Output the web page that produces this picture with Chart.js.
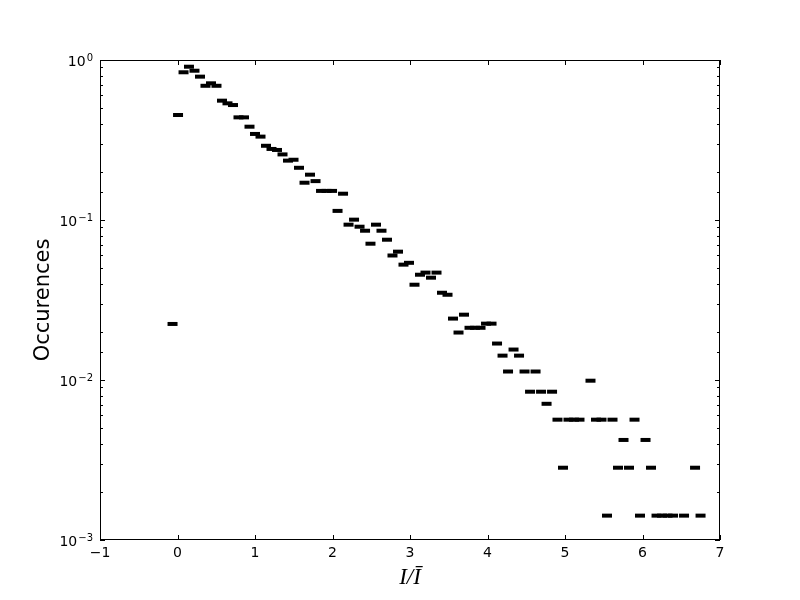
<!DOCTYPE html>
<html>
<head>
<meta charset="utf-8">
<script src="https://cdn.jsdelivr.net/npm/chart.js@4/dist/chart.umd.min.js"></script>
<style>
  html, body { margin: 0; padding: 0; background: #ffffff; }
  #wrap { width: 800px; height: 600px; }
</style>
</head>
<body>
<div id="wrap"><canvas id="c" width="800" height="600"></canvas></div>
<script>
// ---- data ----
const binCenters = [
  -0.064, 0.007, 0.078, 0.148, 0.219, 0.290, 0.361, 0.432, 0.503, 0.574,
  0.645, 0.716, 0.787, 0.858, 0.929, 1.000, 1.071, 1.142, 1.213, 1.284,
  1.355, 1.426, 1.497, 1.568, 1.639, 1.710, 1.781, 1.852, 1.923, 1.994,
  2.065, 2.136, 2.207, 2.278, 2.349, 2.420, 2.490, 2.561, 2.632, 2.703,
  2.774, 2.845, 2.916, 2.987, 3.058, 3.129, 3.200, 3.271, 3.342, 3.413,
  3.484, 3.555, 3.626, 3.697, 3.768, 3.839, 3.910, 3.981, 4.052, 4.123,
  4.194, 4.265, 4.336, 4.407, 4.478, 4.549, 4.620, 4.691, 4.762, 4.833,
  4.903, 4.974, 5.045, 5.116, 5.187, 5.329, 5.400, 5.471, 5.542, 5.613,
  5.684, 5.755, 5.826, 5.897, 5.968, 6.039, 6.110, 6.181, 6.252, 6.323,
  6.394, 6.536, 6.678, 6.749
];
const occurrences = [
  0.0224, 0.453, 0.838, 0.908, 0.857, 0.787, 0.690, 0.715, 0.690, 0.557,
  0.536, 0.523, 0.438, 0.438, 0.383, 0.345, 0.332, 0.291, 0.278, 0.274,
  0.257, 0.235, 0.238, 0.212, 0.171, 0.192, 0.175, 0.152, 0.152, 0.152,
  0.114, 0.146, 0.0935, 0.1005, 0.0908, 0.0857, 0.0711, 0.0935, 0.0857, 0.0753,
  0.0600, 0.0634, 0.0526, 0.0540, 0.0394, 0.0455, 0.0469, 0.0436, 0.0469, 0.0351,
  0.0341, 0.0242, 0.0198, 0.0256, 0.0212, 0.0212, 0.0212, 0.0225, 0.0225, 0.0169,
  0.0142, 0.0113, 0.0155, 0.0142, 0.0113, 0.00845, 0.0113, 0.00845, 0.0071, 0.00845,
  0.00565, 0.00283, 0.00565, 0.00565, 0.00565, 0.0099, 0.00565, 0.00565, 0.00142, 0.00565,
  0.00283, 0.00422, 0.00283, 0.00565, 0.00142, 0.00422, 0.00283, 0.00142, 0.00142, 0.00142,
  0.00142, 0.00142, 0.00283, 0.00142
];
const xTickValues = [-1, 0, 1, 2, 3, 4, 5, 6, 7];
const xTickLabels = ['\u22121', '0', '1', '2', '3', '4', '5', '6', '7'];
const yDecades = [0.001, 0.01, 0.1, 1];
const yDecadeBase = '10';
const yDecadeExponents = ['\u22123', '\u22122', '\u22121', '0'];
const xAxisTitle = 'I/\u012A';
const yAxisTitle = 'Occurences';

// ---- frame, inward ticks and 10^n labels (matplotlib classic look) ----
const framePlugin = {
  id: 'frame',
  afterDatasetsDraw(chart) {
    const {ctx, chartArea: a, scales: {x, y}} = chart;
    ctx.save();
    ctx.strokeStyle = '#000';
    ctx.lineWidth = 1;
    ctx.beginPath();
    xTickValues.forEach(v => {
      const px = Math.round(x.getPixelForValue(v)) + 0.5;
      ctx.moveTo(px, a.bottom); ctx.lineTo(px, a.bottom - 5);
      ctx.moveTo(px, a.top); ctx.lineTo(px, a.top + 5);
    });
    y.ticks.forEach(t => {
      const v = t.value;
      if (v < 0.001 - 1e-12 || v > 1 + 1e-12) return;
      const major = yDecades.some(d => Math.abs(d - v) / d < 1e-6);
      const len = major ? 5 : 3;
      const py = Math.round(y.getPixelForValue(v)) + 0.5;
      ctx.moveTo(a.left, py); ctx.lineTo(a.left + len, py);
      ctx.moveTo(a.right, py); ctx.lineTo(a.right - len, py);
    });
    ctx.stroke();
    ctx.strokeRect(Math.round(a.left) + 0.5, Math.round(a.top) + 0.5,
                   Math.round(a.right - a.left) - 1, Math.round(a.bottom - a.top) - 1);

    // y decade labels with raised exponents
    ctx.fillStyle = '#000';
    ctx.textBaseline = 'alphabetic';
    ctx.textAlign = 'left';
    const rightEdge = a.left - 7;
    yDecades.forEach((d, k) => {
      const py = y.getPixelForValue(d);
      ctx.font = '10px "DejaVu Sans"';
      const ew = ctx.measureText(yDecadeExponents[k]).width;
      ctx.fillText(yDecadeExponents[k], rightEdge - ew, py + 0.5);
      ctx.font = '14px "DejaVu Sans"';
      const bw = ctx.measureText(yDecadeBase).width;
      ctx.fillText(yDecadeBase, rightEdge - ew - bw - 1, py + 6);
    });
    ctx.restore();
  }
};

const ctx = document.getElementById('c').getContext('2d');
new Chart(ctx, {
  type: 'scatter',
  data: {
    datasets: [{
      data: binCenters.map((v, i) => ({x: v, y: occurrences[i]})),
      pointStyle: 'line',
      pointRadius: 5,
      pointHoverRadius: 5,
      pointBorderWidth: 4,
      pointHoverBorderWidth: 4,
      borderColor: '#000',
      backgroundColor: '#000',
      showLine: false
    }]
  },
  options: {
    responsive: false,
    animation: false,
    devicePixelRatio: 1,
    layout: { padding: { top: 60, right: 80, left: 0, bottom: 0 } },
    plugins: { legend: { display: false }, tooltip: { enabled: false } },
    scales: {
      x: {
        type: 'linear',
        min: -1, max: 7,
        grid: { display: false, drawTicks: false },
        border: { display: false },
        afterBuildTicks: s => { s.ticks = xTickValues.map(v => ({value: v})); },
        afterFit: s => { s.height = 60; },
        ticks: {
          padding: 5,
          color: '#000',
          font: { family: 'DejaVu Sans', size: 14 },
          maxRotation: 0,
          autoSkip: false,
          callback: v => { const k = xTickValues.indexOf(v); return k >= 0 ? xTickLabels[k] : ''; }
        },
        title: {
          display: true,
          text: xAxisTitle,
          color: '#000',
          font: { family: 'Liberation Serif', size: 23, style: 'italic' },
          padding: { top: 0, bottom: 8 }
        }
      },
      y: {
        type: 'logarithmic',
        min: 0.001, max: 1,
        grid: { display: false, drawTicks: false },
        border: { display: false },
        afterFit: s => { s.width = 100; },
        ticks: {
          padding: 8,
          color: '#000',
          font: { family: 'DejaVu Sans', size: 14 },
          autoSkip: false,
          callback: () => ''
        },
        title: {
          display: true,
          text: yAxisTitle,
          color: '#000',
          font: { family: 'DejaVu Sans', size: 21 },
          padding: { top: 31, bottom: 0 }
        }
      }
    }
  },
  plugins: [framePlugin]
});
</script>
</body>
</html>
